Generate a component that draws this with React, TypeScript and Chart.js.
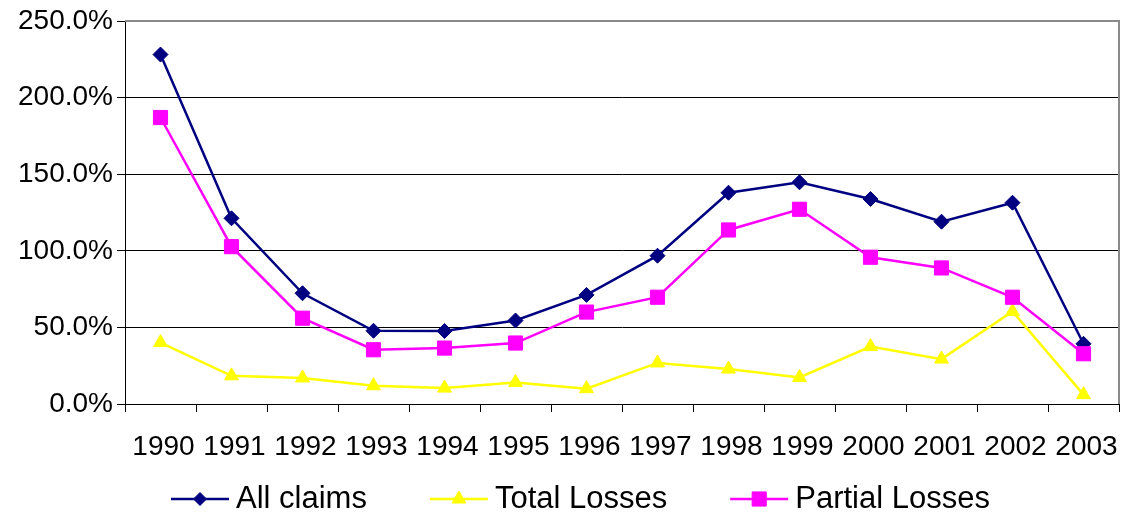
import React, { useEffect, useRef } from 'react';
import { Chart, registerables } from 'chart.js';
import { drawPoint } from 'chart.js/helpers';

Chart.register(...registerables);

const years = ['1990', '1991', '1992', '1993', '1994', '1995', '1996', '1997', '1998', '1999', '2000', '2001', '2002', '2003'];
const allClaims = [228.1, 121.2, 72.3, 47.8, 47.6, 54.5, 71.2, 96.8, 137.9, 144.7, 133.8, 119.0, 131.4, 39.3];
const totalLosses = [40.1, 18.4, 17.0, 11.9, 10.4, 14.1, 10.0, 26.8, 22.8, 17.3, 37.5, 29.3, 60.4, 6.1];
const partialLosses = [187.0, 102.7, 56.0, 35.4, 36.5, 39.8, 60.0, 69.7, 113.6, 127.1, 95.8, 88.8, 69.7, 32.8];
const seriesNames = ['All claims', 'Total Losses', 'Partial Losses'];

const FONT = '"Liberation Sans", Arial, sans-serif';

const borderPlugin = {
  id: 'plotBorder',
  beforeDatasetsDraw(chart: any) {
    const { ctx, chartArea } = chart;
    ctx.save();
    ctx.strokeStyle = '#8a8a8a';
    ctx.lineWidth = 2;
    ctx.beginPath();
    ctx.moveTo(chartArea.left, chartArea.top);
    ctx.lineTo(chartArea.right, chartArea.top);
    ctx.lineTo(chartArea.right, chartArea.bottom);
    ctx.stroke();
    ctx.restore();
  },
};

const legendPlugin = {
  id: 'lineLegend',
  afterDraw(chart: any) {
    const ctx = chart.ctx;
    ctx.save();
    ctx.font = `31px ${FONT}`;
    ctx.textBaseline = 'middle';
    ctx.textAlign = 'left';
    let x = 171;
    const y = 499;
    chart.data.datasets.forEach((ds: any) => {
      ctx.strokeStyle = ds.borderColor;
      ctx.lineWidth = 2.5;
      ctx.beginPath();
      ctx.moveTo(x, y);
      ctx.lineTo(x + 58, y);
      ctx.stroke();
      ctx.fillStyle = ds.backgroundColor;
      ctx.strokeStyle = ds.borderColor;
      ctx.lineWidth = 1;
      drawPoint(ctx, { pointStyle: ds.pointStyle, radius: ds.legendRadius, rotation: 0, borderWidth: 1 }, x + 29, y);
      ctx.fillStyle = '#000';
      ctx.fillText(ds.label, x + 65, y);
      const w = ctx.measureText(ds.label).width;
      x = x + 65 + w + 63;
    });
    ctx.restore();
  },
};

export default function App() {
  const ref = useRef<HTMLCanvasElement>(null);
  useEffect(() => {
    if (!ref.current) return;
    const chart = new Chart(ref.current, {
      type: 'line',
      data: {
        labels: years,
        datasets: [
          {
            label: seriesNames[0],
            data: allClaims,
            borderColor: '#000080',
            backgroundColor: '#000080',
            borderWidth: 2.5,
            pointStyle: 'rectRot',
            pointRadius: 7.5,
            legendRadius: 6.5,
            pointBorderWidth: 1,
            tension: 0,
            order: 3,
          } as any,
          {
            label: seriesNames[1],
            data: totalLosses,
            borderColor: '#FFFF00',
            backgroundColor: '#FFFF00',
            borderWidth: 2.5,
            pointStyle: 'triangle',
            pointRadius: 8,
            legendRadius: 8,
            pointBorderWidth: 1,
            tension: 0,
            order: 2,
          } as any,
          {
            label: seriesNames[2],
            data: partialLosses,
            borderColor: '#FF00FF',
            backgroundColor: '#FF00FF',
            borderWidth: 2.5,
            pointStyle: 'rect',
            pointRadius: 10,
            legendRadius: 10,
            pointBorderWidth: 1,
            tension: 0,
            order: 1,
          } as any,
        ],
      },
      options: {
        responsive: false,
        animation: false,
        devicePixelRatio: 1,
        layout: { autoPadding: false, padding: { left: 0, right: 4, top: 21, bottom: 50 } },
        plugins: {
          legend: { display: false },
          tooltip: { enabled: false },
        },
        scales: {
          x: {
            offset: true,
            grid: {
              offset: true,
              drawOnChartArea: false,
              drawTicks: true,
              tickLength: 8,
              tickColor: '#000',
              color: '#000',
            },
            border: { display: true, color: '#000', width: 1 },
            ticks: {
              color: '#000',
              font: { family: FONT, size: 28 },
              padding: 18,
              labelOffset: 3,
              maxRotation: 0,
              autoSkip: false,
            },
            afterFit: (s: any) => {
              s.height = 60;
              s.paddingLeft = 0;
              s.paddingRight = 0;
            },
          },
          y: {
            min: 0,
            max: 250,
            grid: {
              color: (c: any) => (c.tick && c.tick.value === 250 ? '#8a8a8a' : '#000'),
              lineWidth: 1,
              tickLength: 8,
              tickColor: '#000',
            },
            border: { display: true, color: '#000', width: 1 },
            ticks: {
              stepSize: 50,
              color: '#000',
              font: { family: FONT, size: 28 },
              padding: 4,
              callback: (v: any) => Number(v).toFixed(1) + '%',
            },
            afterFit: (s: any) => {
              s.width = 125;
            },
          },
        },
      },
      plugins: [borderPlugin, legendPlugin],
    });
    return () => chart.destroy();
  }, []);
  return (
    <div style={{ position: 'absolute', left: 0, top: 0, width: 1123, height: 514, background: '#fff' }}>
      <canvas ref={ref} width={1123} height={514} />
    </div>
  );
}
